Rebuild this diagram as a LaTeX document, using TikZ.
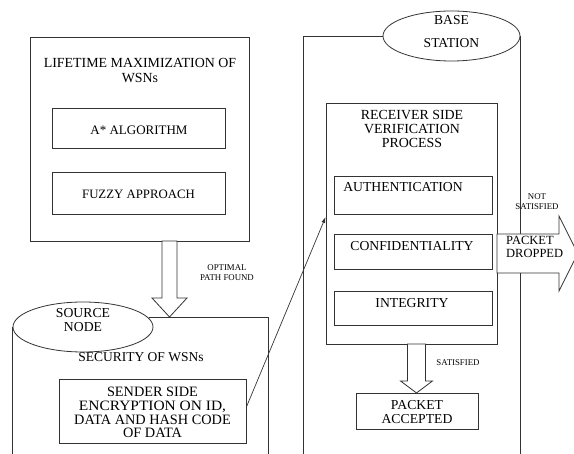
\documentclass[tikz,border=0pt]{standalone}
\usepackage{fontspec}
\setmainfont{Liberation Serif}
\usetikzlibrary{calc,arrows.meta,shapes.geometric}
\newcommand\myfs[2]{\fontsize{#1}{#2}\selectfont}
\begin{document}
\begin{tikzpicture}[x=1pt,y=-1pt,
  ln/.style={draw=black!80,line width=0.8pt},
  bx/.style={ln,rectangle,inner sep=0pt,fill=white},
  lbl/.style={inner sep=0pt,align=center,text=black},
  big/.style={font=\myfs{13.7}{14}},
  tiny/.style={font=\myfs{8.8}{10}},
  blockarrow/.style={ln,fill=white,line join=miter}
]
\useasboundingbox (0,0) rectangle (574,454);
\clip (0,0) rectangle (574,454);

% ---------- Lifetime maximization ----------
\node[bx,minimum width=219pt,minimum height=204pt] (life) at (139.5,139) {};
\node[lbl,font=\myfs{13.9}{15}] (lifet) at (140,70.5) {LIFETIME MAXIMIZATION OF\\WSNs};
\node[bx,minimum width=173pt,minimum height=40pt] (astar) at (138.5,128) {};
\node[lbl,font=\myfs{13}{14}] (astart) at (139,130) {A* ALGORITHM};
\node[bx,minimum width=173pt,minimum height=42pt] (fuzzy) at (138.5,193) {};
\node[lbl,font=\myfs{12.8}{14}] (fuzzyt) at (138.5,194) {FUZZY APPROACH};

% ---------- Source node ----------
\node[ln,ellipse,minimum width=140pt,minimum height=50pt,inner sep=0pt] (src) at (83,327) {};
\node[lbl,big] (srct) at (83,320) {SOURCE\\NODE};
\coordinate (srcR) at (268,318);
\draw[ln] (src.west) -- (src.west |- 0,470);
\draw[ln] (src.8) -- (src.8 -| srcR) -- (srcR |- 0,470);
\node[lbl,font=\myfs{13.5}{14}] (sec) at (141,357.5) {SECURITY OF WSNs};
\node[bx,minimum width=187pt,minimum height=64pt] (send) at (152.5,411) {};
\node[lbl,font=\myfs{14.3}{13.8}] (sendt) at (152.5,412.5) {SENDER SIDE\\\scalebox{1.08}[1]{ENCRYPTION ON ID,}\\DATA AND HASH CODE\\OF DATA};

% optimal path arrow
\coordinate (oa) at (169.5,241);
\draw[blockarrow] (oa) ++(-7.5,0) -- ++(0,57) -- ++(-10,0) -- ++(17.5,19) -- ++(17.5,-19) -- ++(-10,0) -- ++(0,-57) -- cycle;
\node[lbl,tiny,text height=6pt] (optt) at (227,277.5) {OPTIMAL\\PATH FOUND};

% ---------- Base station ----------
\node[ln,ellipse,minimum width=137pt,minimum height=50pt,inner sep=0pt] (bs) at (451.5,36) {};
\node[lbl,font=\myfs{13.6}{23}] (bst) at (451.5,32) {BASE\\STATION};
\coordinate (bsL) at (303,37);
\draw[ln] (bs.west) -- (bs.west -| bsL) -- (bsL |- 0,470);
\draw[ln] (bs.east) -- (bs.east |- 0,470);

% receiver
\node[bx,minimum width=171pt,minimum height=241pt] (recv) at (411.5,223.5) {};
\node[lbl,font=\myfs{13.9}{14}] (recvt) at (412,129) {RECEIVER SIDE\\VERIFICATION\\PROCESS};
\node[bx,minimum width=158pt,minimum height=38pt] (auth) at (413,195) {};
\node[lbl,big] (autht) at (403,187.5) {AUTHENTICATION};
\node[bx,minimum width=158pt,minimum height=35pt] (conf) at (413,251.5) {};
\node[lbl,big] (conft) at (412,246.5) {CONFIDENTIALITY};
\node[bx,minimum width=158pt,minimum height=34pt] (integ) at (413,308) {};
\node[lbl,big] (integt) at (412,303.5) {INTEGRITY};

% satisfied arrow
\coordinate (sa) at (416.5,344);
\draw[blockarrow] (sa) ++(-9,0) -- ++(0,37) -- ++(-7,0) -- ++(16,12) -- ++(16,-12) -- ++(-7,0) -- ++(0,-37) -- cycle;
\node[lbl,tiny] (satt) at (458,363) {SATISFIED};
\node[bx,minimum width=122pt,minimum height=36pt] (acc) at (417,411) {};
\node[lbl,font=\myfs{13.7}{13.5}] (acct) at (417,412) {PACKET\\ACCEPTED};

% dropped arrow
\coordinate (da) at (497,253.5);
\draw[blockarrow] (da) ++(0,-19.5) -- ++(62,0) -- ++(0,-18) -- ++(18.75,37.5) -- ++(-18.75,37.5) -- ++(0,-18) -- ++(-62,0) -- cycle;
\node[lbl,font=\myfs{12.5}{13},align=left,anchor=west] (dropt) at (506,247) {PACKET\\DROPPED};
\node[lbl,font=\myfs{8.8}{9.3}] (nst) at (537,201.5) {NOT\\SATISFIED};

% connector
\draw[ln,line width=0.7pt,-{Latex[length=6pt,width=4pt]}] ([yshift=4pt]send.east) -- ([yshift=6.5pt]recv.west);
\end{tikzpicture}
\end{document}
